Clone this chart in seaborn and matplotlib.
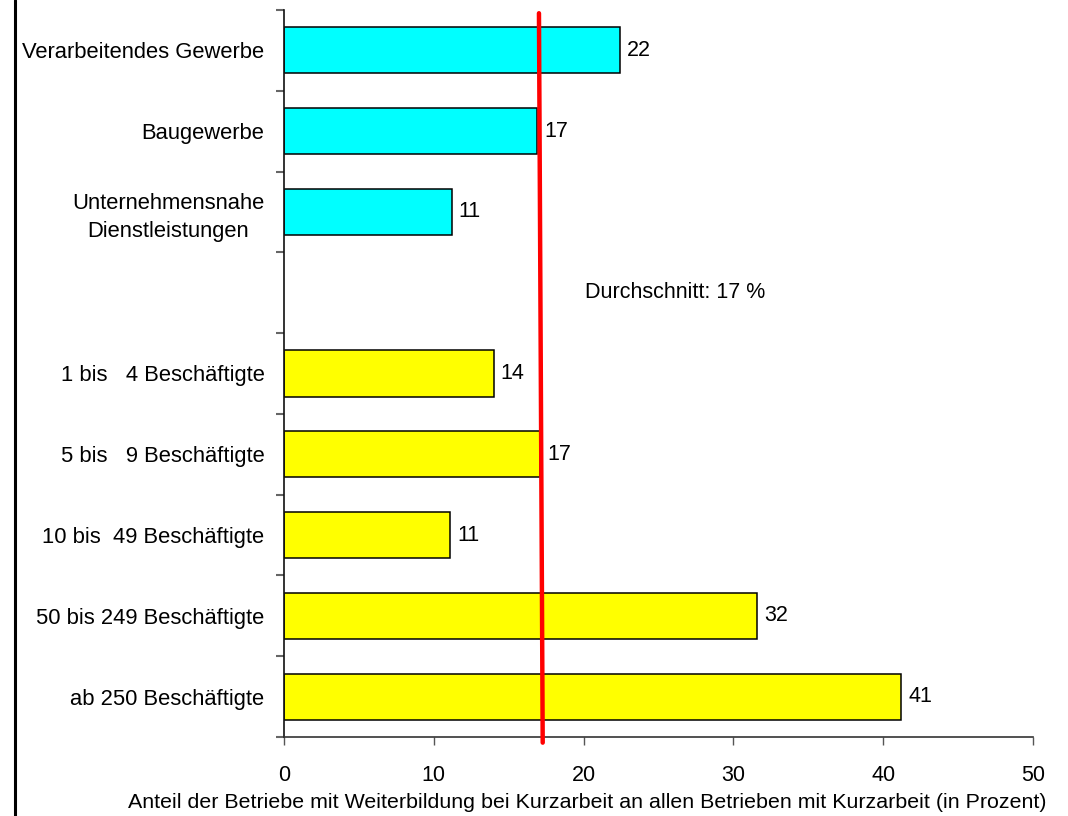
import numpy as np
import pandas as pd
import matplotlib
matplotlib.use("Agg")
import matplotlib.pyplot as plt
from matplotlib.lines import Line2D
import seaborn as sns

# ---- data ----
categories = ["Verarbeitendes Gewerbe", "Baugewerbe", "Unternehmensnahe\nDienstleistungen", " ",
              "1 bis   4 Beschäftigte", "5 bis   9 Beschäftigte", "10 bis  49 Beschäftigte",
              "50 bis 249 Beschäftigte", "ab 250 Beschäftigte"]
values = [22.4, 16.9, 11.2, np.nan, 14.0, 17.1, 11.1, 31.6, 41.2]
groups = ["Branche", "Branche", "Branche", "Branche",
          "Größe", "Größe", "Größe", "Größe", "Größe"]
group_colors = {"Branche": "#00FFFF", "Größe": "#FFFF00"}
avg_line_x = [17.02, 17.27]
avg_label = "Durchschnitt: 17 %"
xlabel = "Anteil der Betriebe mit Weiterbildung bei Kurzarbeit an allen Betrieben mit Kurzarbeit (in Prozent)"
xticks = [0, 10, 20, 30, 40, 50]

df = pd.DataFrame({"cat": categories, "val": values, "grp": groups})

sns.set_style("ticks")
plt.rcParams["font.family"] = ["Liberation Sans", "DejaVu Sans"]
plt.rcParams["text.color"] = "black"
plt.rcParams["xtick.labelcolor"] = "black"
plt.rcParams["ytick.labelcolor"] = "black"
FS = 15.8

fig = plt.figure(figsize=(10.68, 8.16), dpi=100)
ax = fig.add_axes([284 / 1068, 1 - 737 / 816, (1033 - 284) / 1068, (737 - 10) / 816])

sns.barplot(data=df, y="cat", x="val", hue="grp", order=categories, palette=group_colors,
            dodge=False, width=0.57, edgecolor="black", linewidth=1.1, legend=False,
            errorbar=None, ax=ax, saturation=1)

for cont in ax.containers:
    labels = ["" if (w is None or np.isnan(w)) else f"{w:.0f}" for w in cont.datavalues]
    ax.bar_label(cont, labels=labels, padding=5, fontsize=15.5, color="black")

ax.set_xlim(0, 50)
ax.set_ylim(len(categories) - 0.5, -0.5)
ax.set_xticks(xticks)
ax.set_xticklabels([str(t) for t in xticks], fontsize=15.5, color="black")
ax.tick_params(axis="x", length=6, width=1, color="#555555", pad=14, direction="out")

ax.set_yticks(range(len(categories)))
ax.set_yticklabels(categories, fontsize=FS, color="black")
for lab in ax.get_yticklabels():
    lab.set_multialignment("center")
    lab.set_linespacing(1.4)
ax.tick_params(axis="y", which="major", length=0, pad=14)
ax.set_yticks(np.arange(-0.5, len(categories), 1.0), minor=True)
ax.tick_params(axis="y", which="minor", length=6, width=1.5, color="#666666", direction="out")

ax.set_xlabel("")
ax.set_ylabel("")
for s in ["top", "right"]:
    ax.spines[s].set_visible(False)
ax.spines["left"].set_linewidth(1.2)
ax.spines["bottom"].set_linewidth(1.2)
ax.spines["bottom"].set_color("#333333")
ax.spines["left"].set_color("#111111")

# average line
ax.plot(avg_line_x, [-0.46, 8.57], color="#FF0000", linewidth=3.2, clip_on=False, zorder=5)
ax.text(20.1, 3.0, avg_label, fontsize=15.5, va="center", ha="left", color="black")

fig.text(587 / 1068, 1 - 803 / 816, xlabel, fontsize=15.4, ha="center", va="center", color="black")

# left frame line
fig.add_artist(Line2D([14.5 / 1068, 14.5 / 1068], [0, 1], transform=fig.transFigure,
                      color="black", linewidth=2.2))

fig.savefig("out.png", dpi=100)
